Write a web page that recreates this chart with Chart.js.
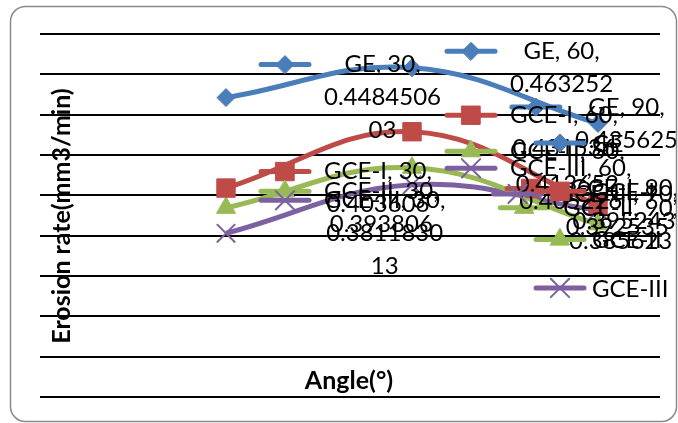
<!DOCTYPE html>
<html>
<head>
<meta charset="utf-8">
<script src="https://cdn.jsdelivr.net/npm/chart.js@4.4.1/dist/chart.umd.min.js"></script>
<style>
  html, body { margin: 0; padding: 0; background: #ffffff; }
  #wrap { position: relative; width: 678px; height: 423px; }
  canvas { display: block; }
</style>
</head>
<body>
<div id="wrap"><canvas id="erosion" width="678" height="423"></canvas></div>
<script>
// Impact angle (degrees) for every series
const angles = [30, 60, 90];

// Series names
const seriesNames = ['GE', 'GCE-I', 'GCE-II', 'GCE-III'];

// Erosion rate (mm3/min) per series
const geRate   = [0.448450603, 0.463252, 0.435625];
const gce1Rate = [0.403606, 0.431536, 0.395243];
const gce2Rate = [0.393806, 0.413652, 0.385623];
const gce3Rate = [0.381183013, 0.405226, 0.392535];

// Value axis range
const yMin = 0.30;
const yMax = 0.48;
const yStep = 0.02;

// Axis titles
const xTitle = 'Angle(°)';
const yTitle = 'Erosion rate(mm3/min)';

const seriesValues = [geRate, gce1Rate, gce2Rate, gce3Rate];

const seriesStyles = [
  { color: '#4A7EBB', pointStyle: 'rectRot',  radius: 9,  border: 1 },
  { color: '#BE4B48', pointStyle: 'rect',     radius: 13, border: 1 },
  { color: '#98B954', pointStyle: 'triangle', radius: 11, border: 1 },
  { color: '#7D60A0', pointStyle: 'crossRot', radius: 13, border: 2 }
];

const TEXT_FONT = '24px Lato, "Open Sans", sans-serif';
const TITLE_FONT = 'bold 25px Lato, "Open Sans", sans-serif';

const datasets = seriesNames.map((name, s) => {
  const st = seriesStyles[s];
  return {
    label: name,
    data: angles.map((a, i) => ({ x: a, y: seriesValues[s][i] })),
    showLine: true,
    borderColor: st.color,
    backgroundColor: st.color,
    borderWidth: 5,
    tension: 0.4,
    pointStyle: st.pointStyle,
    pointRadius: st.radius,
    pointHoverRadius: st.radius,
    pointBorderWidth: st.border,
    pointBackgroundColor: st.color,
    pointBorderColor: st.color
  };
});

function drawKey(ctx, ds, x0, x1, y) {
  ctx.save();
  ctx.strokeStyle = ds.borderColor;
  ctx.lineWidth = 5;
  ctx.lineCap = 'round';
  ctx.beginPath();
  ctx.moveTo(x0 + 3, y);
  ctx.lineTo(x1 - 3, y);
  ctx.stroke();
  ctx.fillStyle = ds.pointBackgroundColor;
  ctx.strokeStyle = ds.pointBorderColor;
  ctx.lineWidth = ds.pointBorderWidth;
  Chart.helpers.drawPoint(ctx, {
    pointStyle: ds.pointStyle,
    radius: ds.pointRadius,
    rotation: 0,
    borderWidth: ds.pointBorderWidth
  }, (x0 + x1) / 2, y);
  ctx.restore();
}

// Word wrap; words wider than the limit are split by characters
function wrapText(ctx, text, maxW) {
  const words = text.split(' ');
  const lines = [];
  let cur = '';
  for (const w of words) {
    const trial = cur ? cur + ' ' + w : w;
    if (ctx.measureText(trial).width <= maxW) { cur = trial; continue; }
    if (cur) lines.push(cur);
    let rest = w;
    while (ctx.measureText(rest).width > maxW) {
      let n = rest.length;
      while (n > 1 && ctx.measureText(rest.slice(0, n)).width > maxW) n--;
      lines.push(rest.slice(0, n));
      rest = rest.slice(n);
    }
    cur = rest;
  }
  if (cur) lines.push(cur);
  return lines;
}

// Data labels: legend key followed by "series, x, y"
const pointLabels = {
  id: 'pointLabels',
  afterDatasetsDraw(chart, args, opts) {
    const ctx = chart.ctx;
    ctx.save();
    ctx.font = TEXT_FONT;
    ctx.fillStyle = '#000';
    ctx.textBaseline = 'middle';
    ctx.textAlign = 'center';
    chart.data.datasets.forEach((ds, s) => {
      const meta = chart.getDatasetMeta(s);
      meta.data.forEach((pt, i) => {
        const raw = ds.data[i];
        const text = ds.label + ', ' + raw.x + ', ' + raw.y;
        const lines = wrapText(ctx, text, opts.wrapWidth);
        const blockW = Math.max(...lines.map(l => ctx.measureText(l).width));
        const totalW = opts.keyWidth + opts.keyGap + blockW;
        let left = pt.x + opts.offsetX;
        if (left + totalW > chart.width) left = chart.width - totalW;
        const firstY = pt.y - (lines.length - 1) / 2 * opts.lineHeight;
        drawKey(ctx, ds, left, left + opts.keyWidth, firstY);
        const cx = left + opts.keyWidth + opts.keyGap + blockW / 2;
        ctx.fillStyle = '#000';
        lines.forEach((l, k) => ctx.fillText(l, cx, firstY + k * opts.lineHeight));
      });
    });
    ctx.restore();
  }
};

// Legend, axis titles and the rounded frame
const decorations = {
  id: 'decorations',
  afterDraw(chart, args, opts) {
    const ctx = chart.ctx;
    ctx.save();
    ctx.font = TEXT_FONT;
    ctx.textBaseline = 'middle';
    ctx.textAlign = 'left';
    chart.data.datasets.forEach((ds, s) => {
      const y = opts.legendTop + s * opts.legendStep;
      drawKey(ctx, ds, opts.legendX, opts.legendX + 54, y);
      ctx.fillStyle = '#000';
      ctx.fillText(ds.label, opts.legendX + 59, y + 1);
    });

    ctx.font = TITLE_FONT;
    ctx.fillStyle = '#000';
    ctx.textAlign = 'center';
    ctx.fillText(xTitle, opts.xTitleX, opts.xTitleY);
    ctx.save();
    ctx.translate(opts.yTitleX, opts.yTitleY);
    ctx.rotate(-Math.PI / 2);
    ctx.fillText(yTitle, 0, 0);
    ctx.restore();

    ctx.strokeStyle = '#8a8a8a';
    ctx.lineWidth = 1.5;
    ctx.beginPath();
    ctx.roundRect(10.5, 6.5, 666, 415, 15);
    ctx.stroke();
    ctx.restore();
  }
};

new Chart(document.getElementById('erosion'), {
  type: 'scatter',
  data: { datasets },
  plugins: [pointLabels, decorations],
  options: {
    responsive: false,
    animation: false,
    events: [],
    layout: { padding: { left: 40, right: 18, top: 34, bottom: 26 } },
    scales: {
      x: { type: 'linear', min: 0, max: 100, display: false },
      y: {
        type: 'linear',
        min: yMin,
        max: yMax,
        ticks: { display: false, stepSize: yStep },
        border: { display: false },
        grid: { color: '#000000', lineWidth: 2, drawTicks: false }
      }
    },
    plugins: {
      legend: { display: false },
      tooltip: { enabled: false },
      pointLabels: { wrapWidth: 125, keyWidth: 54, keyGap: 12, offsetX: 32, lineHeight: 33 },
      decorations: {
        legendX: 533, legendTop: 143, legendStep: 48.3,
        xTitleX: 349, xTitleY: 381,
        yTitleX: 62, yTitleY: 216
      }
    }
  }
});
</script>
</body>
</html>
